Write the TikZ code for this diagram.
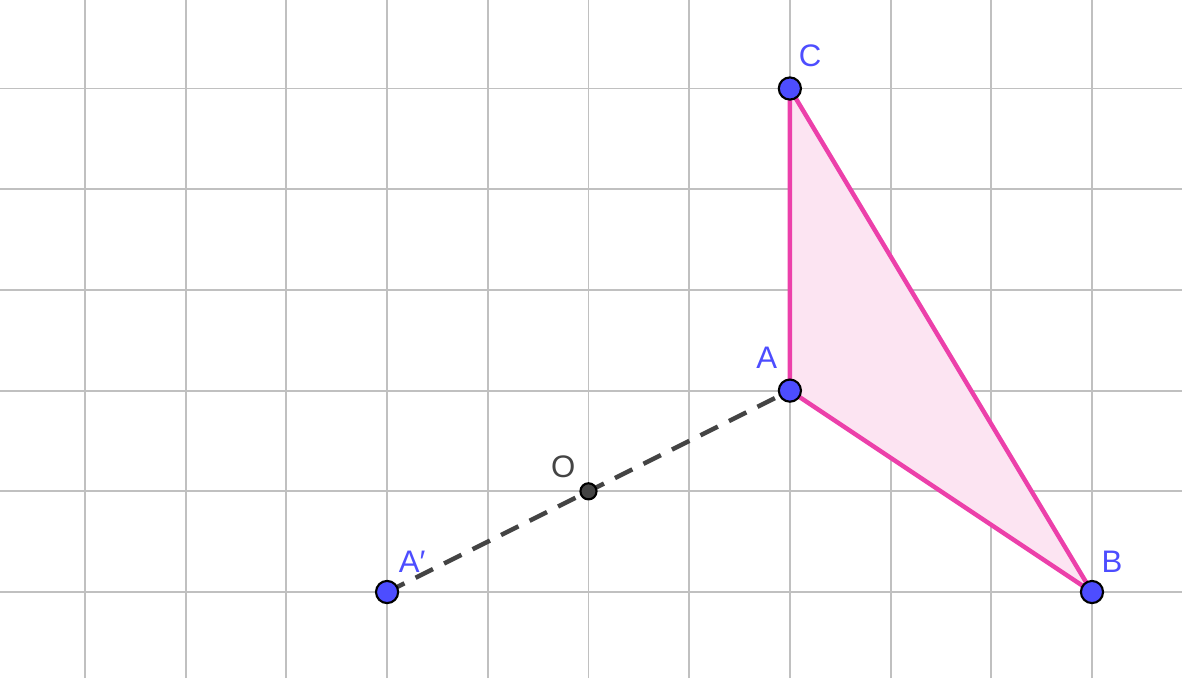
\documentclass[tikz,border=0pt]{standalone}
\usepackage{fontspec}
\setmainfont{Liberation Sans}
\usepackage{tikz}
\usetikzlibrary{positioning,calc}
\definecolor{gridgray}{RGB}{192,192,192}
\definecolor{ptblue}{RGB}{77,77,255}
\definecolor{darkgray}{RGB}{68,68,68}
\definecolor{tripink}{RGB}{236,64,170}
\definecolor{lightpink}{RGB}{252,228,242}

\begin{document}
\begin{tikzpicture}[
    gridline/.style={draw=gridgray, line width=0.55pt},
    side/.style={draw=tripink, line width=1.25pt, line join=round},
    seg/.style={draw=darkgray, line width=1.25pt, dash pattern=on 5.5pt off 3.5pt},
    pt/.style={circle, draw=black, fill=ptblue, line width=0.6pt, inner sep=0pt, minimum size=0.22cm},
    ctr/.style={pt, fill=darkgray, minimum size=0.16cm},
    lbl/.style={font=\fontsize{8.8}{10}\selectfont, text=ptblue, inner sep=0pt},
    lblO/.style={lbl, text=darkgray}
]
    \useasboundingbox (-0.844,-0.854) rectangle (10.894,5.879);
    % grid
    \foreach \x in {0,...,10}
        \draw[gridline] (\x,-0.854) -- (\x,5.879);
    \foreach \y in {0,...,5}
        \draw[gridline] (-0.844,\y) -- (10.894,\y);

    \coordinate (A) at (7,2);
    \coordinate (B) at (10,0);
    \coordinate (C) at (7,5);
    \coordinate (O) at (5,1);
    \coordinate (A1) at (3,0);

    % triangle and segment
    \fill[lightpink] (A) -- (B) -- (C) -- cycle;
    \draw[side] (A) -- (B) -- (C) -- cycle;
    \draw[seg] (A1) -- (A);

    % points
    \node[pt] (pA) at (A) {};
    \node[pt] (pB) at (B) {};
    \node[pt] (pC) at (C) {};
    \node[pt] (pA1) at (A1) {};
    \node[ctr] (pO) at (O) {};

    \node[lbl] (lA) at ([shift={(-0.23,0.33)}]A) {A};
    \node[lbl] (lB) at ([shift={(0.2,0.30)}]B) {B};
    \node[lbl] (lC) at ([shift={(0.2,0.33)}]C) {C};
    \node[lbl] (lA1) at ([shift={(0.25,0.30)}]A1) {A′};
    \node[lblO] (lO) at ([shift={(-0.25,0.24)}]O) {O};
\end{tikzpicture}
\end{document}
